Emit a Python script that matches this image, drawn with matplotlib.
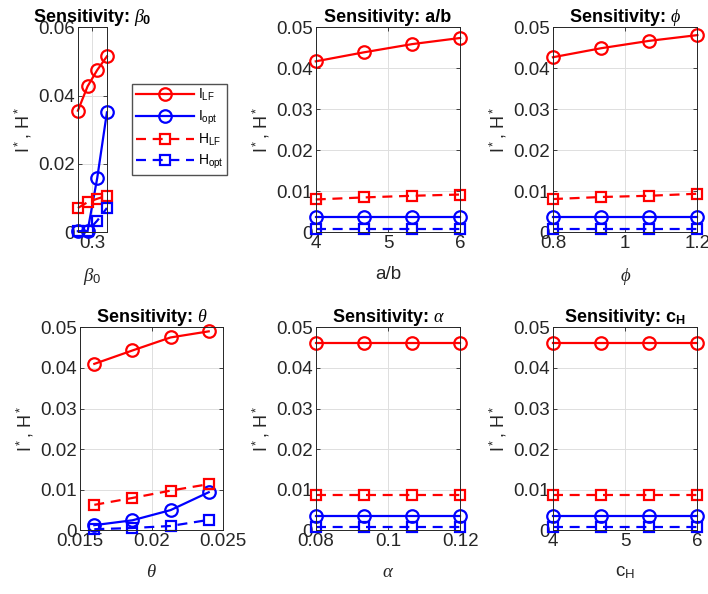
import matplotlib
matplotlib.use("Agg")
import matplotlib.pyplot as plt
from matplotlib.lines import Line2D

plt.rcParams['font.family'] = ['Liberation Sans', 'DejaVu Sans']
plt.rcParams['mathtext.fontset'] = 'custom'
plt.rcParams['mathtext.rm'] = 'Liberation Sans'
plt.rcParams['mathtext.it'] = 'Liberation Serif:italic'
plt.rcParams['mathtext.bf'] = 'Liberation Sans:bold'

# --- data ---
beta0 = [0.25, 0.2833, 0.3167, 0.35]
beta0_ilf = [0.0356, 0.0427, 0.0475, 0.0515]
beta0_iopt = [0.0003, 0.0003, 0.0159, 0.0351]
beta0_hlf = [0.0071, 0.0088, 0.0098, 0.0107]
beta0_hopt = [0.0003, 0.0003, 0.0034, 0.0071]

ab = [4, 4.667, 5.333, 6]
ab_ilf = [0.0417, 0.0439, 0.0459, 0.0474]
ab_iopt = [0.0036, 0.0036, 0.0036, 0.0036]
ab_hlf = [0.0080, 0.0085, 0.0089, 0.0092]
ab_hopt = [0.0008, 0.0008, 0.0008, 0.0008]

phi = [0.8, 0.9333, 1.0667, 1.2]
phi_ilf = [0.0427, 0.0449, 0.0467, 0.0481]
phi_iopt = [0.0036, 0.0036, 0.0036, 0.0036]
phi_hlf = [0.0081, 0.0086, 0.0089, 0.0094]
phi_hopt = [0.0008, 0.0008, 0.0008, 0.0008]

theta = [0.016, 0.01867, 0.02133, 0.024]
theta_ilf = [0.0410, 0.0443, 0.0475, 0.0490]
theta_iopt = [0.0013, 0.0025, 0.0050, 0.0094]
theta_hlf = [0.0063, 0.0080, 0.0098, 0.0114]
theta_hopt = [0.0003, 0.0006, 0.0011, 0.0026]

alpha = [0.08, 0.0933, 0.1067, 0.12]
alpha_ilf = [0.0461, 0.0461, 0.0461, 0.0461]
alpha_iopt = [0.0035, 0.0035, 0.0035, 0.0035]
alpha_hlf = [0.0088, 0.0088, 0.0088, 0.0088]
alpha_hopt = [0.0008, 0.0008, 0.0008, 0.0008]

ch = [4, 4.667, 5.333, 6]
ch_ilf = [0.0461, 0.0461, 0.0461, 0.0461]
ch_iopt = [0.0035, 0.0035, 0.0035, 0.0035]
ch_hlf = [0.0088, 0.0088, 0.0088, 0.0088]
ch_hopt = [0.0008, 0.0008, 0.0008, 0.0008]

legend_labels = [r'I$_{\mathrm{LF}}$', r'I$_{\mathrm{opt}}$',
                 r'H$_{\mathrm{LF}}$', r'H$_{\mathrm{opt}}$']

RED = '#ff0000'
BLUE = '#0000ff'
TICK_COLOR = '#262626'

panels = [
    # x, series, title, xlabel, xlim, xticks, ylim, yticks, position
    (beta0, (beta0_ilf, beta0_iopt, beta0_hlf, beta0_hopt),
     r'Sensitivity: $\beta_\mathbf{0}$', r'$\beta_\mathrm{0}$',
     (0.25, 0.35), [0.3], (0, 0.06), [0, 0.02, 0.04, 0.06],
     [0.110, 0.609, 0.041, 0.345]),
    (ab, (ab_ilf, ab_iopt, ab_hlf, ab_hopt),
     'Sensitivity: a/b', 'a/b',
     (4, 6), [4, 5, 6], (0, 0.05), [0, 0.01, 0.02, 0.03, 0.04, 0.05],
     [0.446, 0.609, 0.204, 0.345]),
    (phi, (phi_ilf, phi_iopt, phi_hlf, phi_hopt),
     r'Sensitivity: $\phi$', r'$\phi$',
     (0.8, 1.2), [0.8, 1, 1.2], (0, 0.05), [0, 0.01, 0.02, 0.03, 0.04, 0.05],
     [0.781, 0.609, 0.204, 0.345]),
    (theta, (theta_ilf, theta_iopt, theta_hlf, theta_hopt),
     r'Sensitivity: $\theta$', r'$\theta$',
     (0.015, 0.025), [0.015, 0.02, 0.025], (0, 0.05), [0, 0.01, 0.02, 0.03, 0.04, 0.05],
     [0.113, 0.107, 0.202, 0.342]),
    (alpha, (alpha_ilf, alpha_iopt, alpha_hlf, alpha_hopt),
     r'Sensitivity: $\alpha$', r'$\alpha$',
     (0.08, 0.12), [0.08, 0.1, 0.12], (0, 0.05), [0, 0.01, 0.02, 0.03, 0.04, 0.05],
     [0.446, 0.107, 0.204, 0.342]),
    (ch, (ch_ilf, ch_iopt, ch_hlf, ch_hopt),
     r'Sensitivity: c$_\mathbf{H}$', r'c$_\mathrm{H}$',
     (4, 6), [4, 5, 6], (0, 0.05), [0, 0.01, 0.02, 0.03, 0.04, 0.05],
     [0.781, 0.107, 0.204, 0.342]),
]

DASH = (0, (4.5, 3))
styles = [
    dict(color=RED, linestyle='-', marker='o', markersize=9),
    dict(color=BLUE, linestyle='-', marker='o', markersize=9),
    dict(color=RED, linestyle=DASH, marker='s', markersize=6.5),
    dict(color=BLUE, linestyle=DASH, marker='s', markersize=6.5),
]

fig = plt.figure(figsize=(7.08, 5.94), dpi=100)

for x, series, title, xlabel, xlim, xticks, ylim, yticks, pos in panels:
    ax = fig.add_axes(pos)
    for y, st in zip(series, styles):
        ax.plot(x, y, linewidth=1.6, markerfacecolor='none',
                markeredgewidth=1.6, clip_on=False, **st)
    ax.set_xlim(*xlim)
    ax.set_ylim(*ylim)
    ax.set_xticks(xticks)
    ax.set_yticks(yticks)
    ax.set_xticklabels([f'{t:g}' for t in xticks])
    ax.set_yticklabels([f'{t:g}' for t in yticks])
    ax.grid(True, color='#dedede', linewidth=0.7)
    ax.set_axisbelow(True)
    ax.tick_params(direction='in', length=3, top=True, right=True,
                   labelsize=13.5, colors=TICK_COLOR, width=0.6, pad=2)
    for s in ax.spines.values():
        s.set_color(TICK_COLOR)
        s.set_linewidth(0.7)
    ax.set_title(title, fontsize=13, fontweight='bold', pad=4)
    ax.set_xlabel(xlabel, fontsize=13.5, color=TICK_COLOR, labelpad=10)
    ax.set_ylabel(r'I$^*$, H$^*$', fontsize=13, color=TICK_COLOR, labelpad=3)

handles = [Line2D([], [], linewidth=1.6, markerfacecolor='none',
                  markeredgewidth=1.6, **st) for st in styles]
fig.legend(handles, legend_labels, loc='upper left',
           bbox_to_anchor=(0.187, 0.859), fontsize=10, frameon=True,
           fancybox=False, edgecolor='#262626', handlelength=4.2,
           handletextpad=0.3, borderpad=0.25, labelspacing=0.38,
           borderaxespad=0)

fig.savefig('out.png', dpi=100)
